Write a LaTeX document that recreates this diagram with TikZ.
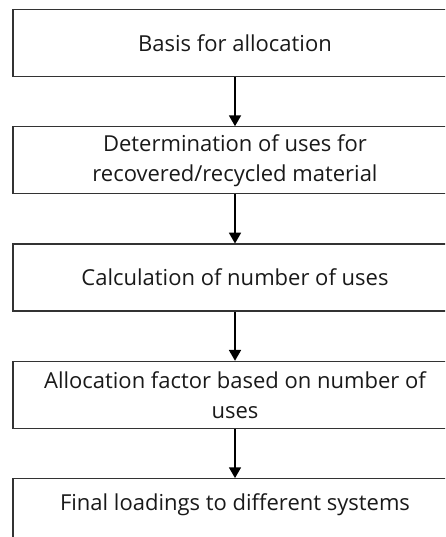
\documentclass[tikz,border=0pt]{standalone}
\usepackage{fontspec}
\setmainfont{Open Sans}
\usetikzlibrary{arrows}
\usetikzlibrary{positioning}

\tikzset{
  stepbox/.style={draw=black!80, line width=1.3pt, minimum width=444pt, minimum height=67pt,
                  align=center, font=\fontsize{22}{30}\selectfont, text=black!90},
  flow/.style={-triangle 60, line width=2pt, black}
}

\begin{document}
\begin{tikzpicture}[node distance=49pt]
          % page frame
          \useasboundingbox (0,0) rectangle (445pt,-537pt);
          \clip (0,0) rectangle (445pt,-537pt);
          % boxes
          \node[stepbox] (basis) at (235pt,-43pt) {Basis for allocation};
          \node[stepbox, below=of basis] (uses) {Determination of uses for\\recovered/recycled material};
          \node[stepbox, below=of uses] (calc) {Calculation of number of uses};
          \node[stepbox, below=of calc] (factor) {Allocation factor based on number of\\uses};
          \node[stepbox, below=of factor, text depth=20pt] (final) {Final loadings to different systems};
          % arrows between boxes
          \draw [flow] (basis) -- (uses);
          \draw [flow] (uses) -- (calc);
          \draw [flow] (calc) -- (factor);
          \draw [flow] (factor) -- (final);
        \end{tikzpicture}
\end{document}
